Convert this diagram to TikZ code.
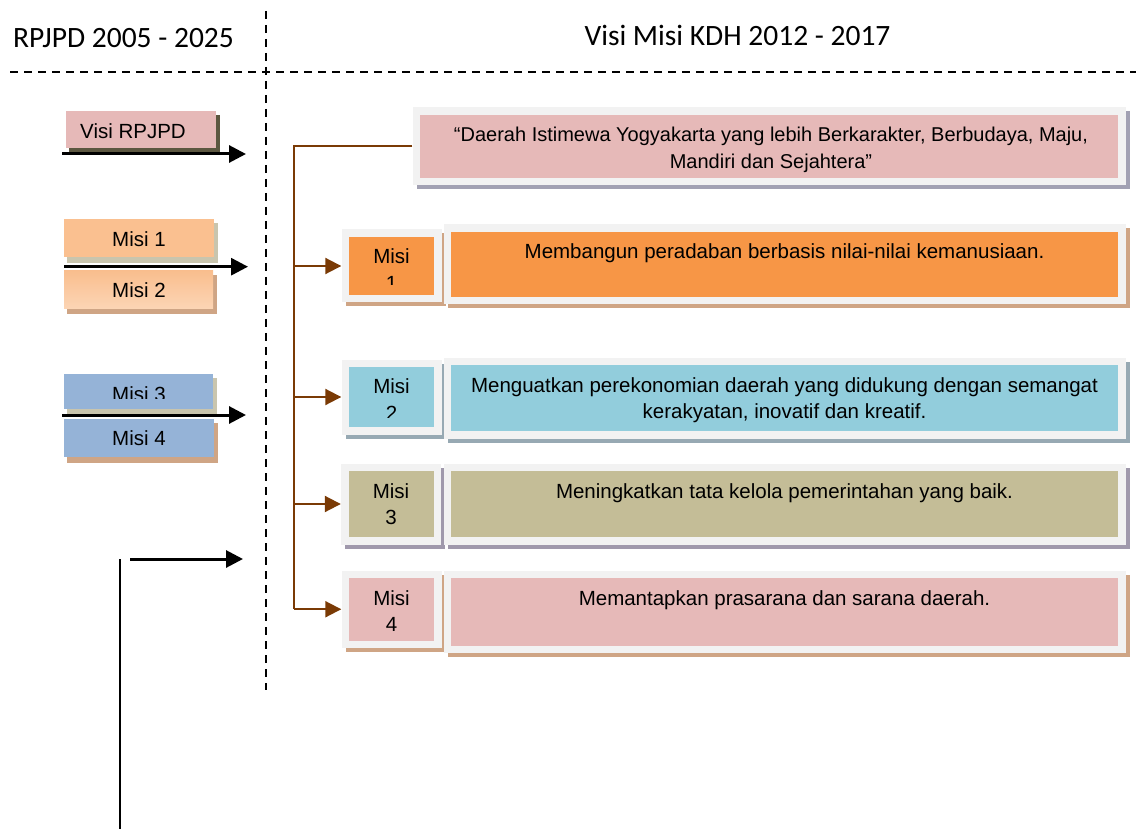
\documentclass[tikz,border=0pt]{standalone}
\usepackage{fontspec}
\setmainfont{Liberation Sans}
\newfontfamily\calfont{Carlito}
\usetikzlibrary{arrows.meta,fit}
\definecolor{pinkc}{HTML}{E6B9B8}
\definecolor{orangel}{HTML}{FAC090}
\definecolor{orangetop}{HTML}{F9BE8E}
\definecolor{orangebot}{HTML}{FCD5B5}
\definecolor{bluec}{HTML}{95B3D7}
\definecolor{orangec}{HTML}{F79646}
\definecolor{cyanc}{HTML}{92CDDC}
\definecolor{olivec}{HTML}{C4BD97}
\definecolor{framec}{HTML}{F2F2F2}
\definecolor{shtan}{HTML}{CFA585}
\definecolor{shgray}{HTML}{A2A1B3}
\definecolor{shblue}{HTML}{97A9B3}
\definecolor{shpurp}{HTML}{A099AC}
\definecolor{shbeige}{HTML}{C9C5AE}
\definecolor{shdark}{HTML}{5C5740}
\definecolor{brownc}{HTML}{7A3A05}
\newcommand\fbx[7]{%
  \fill[#7] (#2-3.5,#3-3.5) rectangle (#4+11.5,#5+11.5);
  \node[fit={(#2-7.5,#3-7.5) (#4+7.5,#5+7.5)}, inner sep=0pt, fill=framec] (#1f) {};
  \node[fit={(#2,#3) (#4,#5)}, inner sep=0pt, fill=#6] (#1) {};
}
\newcommand\lbx[7]{%
  \fill[#7] (#2+3,#3+4) rectangle (#4+4,#5+6);
  \node[fit={(#2,#3) (#4,#5)}, inner sep=0pt, #6] (#1) {};
}
\tikzset{
  title/.style={font=\calfont\fontsize{29.5}{34}\selectfont, anchor=base, inner sep=0pt},
  maintext/.style={font=\fontsize{20.5}{26.5}\selectfont, anchor=base, inner sep=0pt, align=center},
  visitext/.style={font=\fontsize{20}{27}\selectfont, anchor=base, inner sep=0pt, align=center},
  lefttext/.style={font=\fontsize{20.5}{24}\selectfont, anchor=base, inner sep=0pt},
  misitext/.style={font=\fontsize{20.5}{26.5}\selectfont, anchor=base, inner sep=0pt, align=center},
  dashline/.style={line width=2pt, dash pattern=on 8pt off 6pt},
  blackarrow/.style={line width=3pt, -{Triangle[length=17pt,width=17pt]}},
  brownline/.style={draw=brownc, line width=2pt},
  brownarrow/.style={brownline, -{Triangle[length=16pt,width=16pt]}},
}
\begin{document}
\begin{tikzpicture}[x=1pt,y=-1pt]
\useasboundingbox (0,0) rectangle (1136,829);
% titles
\node[title] (t1) at (123.5,48) {RPJPD 2005 - 2025};
\node[title] (t2) at (737.5,46) {Visi Misi KDH 2012 - 2017};
% dashed separators
\coordinate (hl) at (10,72.5);
\coordinate (hr) at (1136,72.5);
\coordinate (vt) at (266,11);
\coordinate (vb) at (266,690);
\draw[dashline] (hl) -- (hr);
\draw[dashline] (vt) -- (vb);
% left boxes
\lbx{lv}{66}{111}{216}{148}{fill=pinkc}{shdark}
\node[lefttext] (lvt) at (133,138.3) {Visi RPJPD};
\lbx{l1}{64}{219.5}{214}{257.5}{fill=orangel}{shbeige}
\node[lefttext] (l1t) at (139,246.7) {Misi 1};
\lbx{l2}{64}{271}{213}{308.5}{top color=orangetop,bottom color=orangebot}{shtan}
\node[lefttext] (l2t) at (139,297.3) {Misi 2};
\lbx{l3}{64}{373.5}{213}{408.5}{fill=bluec}{shbeige}
\begin{scope}
\clip (64,373.5) rectangle (213,398);
\node[lefttext] (l3t) at (139,401.4) {Misi 3};
\end{scope}
\lbx{l4}{64}{418.5}{214}{456.5}{fill=bluec}{shtan}
\node[lefttext] (l4t) at (139,445.7) {Misi 4};
% black arrows
\coordinate (a1s) at (62,154);   \coordinate (a1e) at (246,154);
\coordinate (a2s) at (64,266.7); \coordinate (a2e) at (248,266.7);
\coordinate (a3s) at (62,415);   \coordinate (a3e) at (246,415);
\coordinate (a4s) at (130,559);  \coordinate (a4e) at (243,559);
\draw[blackarrow] (a1s) -- (a1e);
\draw[blackarrow] (a2s) -- (a2e);
\draw[blackarrow] (a3s) -- (a3e);
\draw[blackarrow] (a4s) -- (a4e);
\coordinate (vlt) at (119.5,559);
\coordinate (vlb) at (119.5,829);
\draw[line width=2pt] (vlt) -- (vlb);
% right side boxes
\fbx{v}{420}{115}{1118}{178}{pinkc}{shgray}
\node[visitext] (vt1) at (771,168.7) {“Daerah Istimewa Yogyakarta yang lebih Berkarakter, Berbudaya, Maju,\\Mandiri dan Sejahtera”};
% row 1
\fbx{s1}{349}{237}{434}{295}{orangec}{shtan}
\fbx{b1}{451}{232}{1118}{297}{orangec}{shtan}
\begin{scope}
\clip (349,237) rectangle (434,284.5);
\node[misitext] (s1t) at (391.5,290.5) {Misi\\1};
\end{scope}
\node[maintext] (b1t) at (784.5,259) {Membangun peradaban berbasis nilai-nilai kemanusiaan.};
% row 2
\fbx{s2}{349}{367}{434}{427}{cyanc}{shblue}
\fbx{b2}{451}{365}{1118}{431}{cyanc}{shblue}
\begin{scope}
\clip (349,367) rectangle (434,417);
\node[misitext] (s2t) at (391.5,420) {Misi\\2};
\end{scope}
\node[maintext] (b2t) at (784.5,418.5) {Menguatkan perekonomian daerah yang didukung dengan semangat\\kerakyatan, inovatif dan kreatif.};
% row 3
\fbx{s3}{348.5}{471}{433.5}{537}{olivec}{shpurp}
\fbx{b3}{451}{471}{1118}{537}{olivec}{shpurp}
\node[misitext] (s3t) at (391,524.5) {Misi\\3};
\node[maintext] (b3t) at (784.5,498) {Meningkatkan tata kelola pemerintahan yang baik.};
% row 4
\fbx{s4}{349}{578}{434}{640.5}{pinkc}{shtan}
\fbx{b4}{451}{578}{1118}{645.5}{pinkc}{shtan}
\node[misitext] (s4t) at (391.5,631.5) {Misi\\4};
\node[maintext] (b4t) at (784.5,605) {Memantapkan prasarana dan sarana daerah.};
% brown bracket
\coordinate (bt) at (294,146.5);
\draw[brownline] (vf.west) -- (bt) -- (bt |- s4f.west);
\draw[brownarrow] (bt |- s1f.west) -- (s1f.west);
\draw[brownarrow] (bt |- s2f.west) -- (s2f.west);
\draw[brownarrow] (bt |- s3f.west) -- (s3f.west);
\draw[brownarrow] (bt |- s4f.west) -- (s4f.west);
\end{tikzpicture}
\end{document}
